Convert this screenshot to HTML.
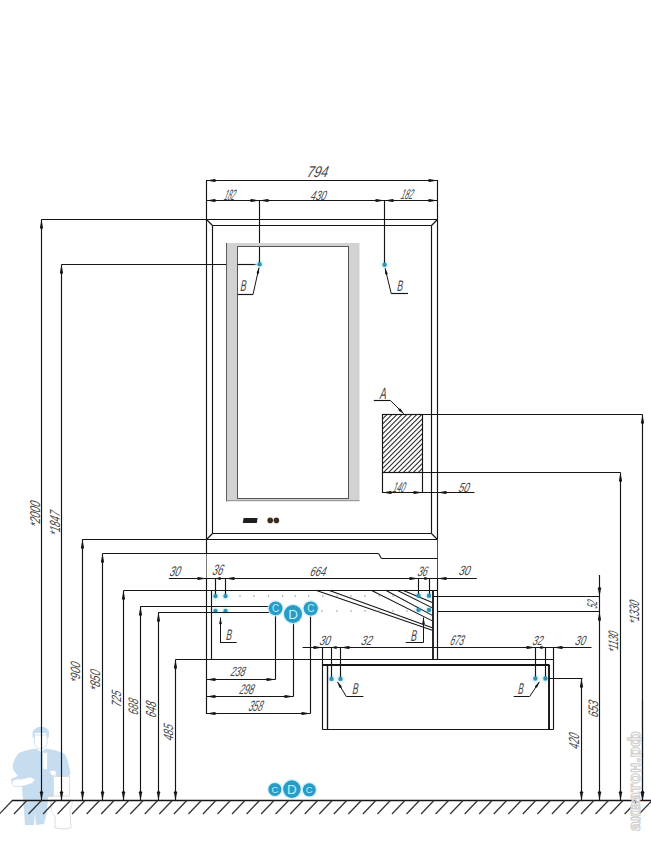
<!DOCTYPE html>
<html><head><meta charset="utf-8"><style>
html,body{margin:0;padding:0;background:#fff;}
svg{display:block;}
text{font-family:"Liberation Sans",sans-serif;}
</style></head><body>
<svg width="651" height="841" viewBox="0 0 651 841">
<defs><filter id="glow" x="-50%" y="-50%" width="200%" height="200%"><feGaussianBlur stdDeviation="1.3"/></filter></defs>
<rect width="651" height="841" fill="#fff"/>
<g fill="#c6ddf0">
<path d="M32.5 737 Q31.5 729 38 727 Q45 725.5 48.5 730 Q50 734 48.5 738 L47 738 L46 733 L35 733 L34 738 Z"/>
<path d="M19 753 Q28 749 36 748.5 L41 752 L46 748.5 Q58 750 65 754 Q69 762 70.5 774 L68 777 L57 777 L53 772 L53 797 L22.5 797 L22 786 Q16 787 12 784 L11 779 L18 776 L14 771 Q12 768 13 764 Q15 757 19 753 Z"/>
<path d="M23 797 L48 797 L47 812 L44 824 L36 825 L35 812 L34 825 L25 825 L24 812 Z"/>
</g>
<g fill="#ffffff" stroke="#c6ddf0" stroke-width="0.8">
<path d="M34.5 735 L47 735 L47 744 Q44 749 40.5 749 Q36 749 34.5 744 Z"/>
<path d="M42.5 751.5 L45 753 L47.5 751.5 L47.5 769.5 L43 769.5 Z"/>
<path d="M12 781 Q16 778 22 779 L30 777 L35 779 L33 783 L24 786 L15 786.5 Q11 785 12 781 Z"/>
<path d="M49 771 L55 770 L57 774 L52 776 Z"/>
</g>
<g fill="#ffffff" stroke="#d6d6d6" stroke-width="0.8"><path d="M53.5 776.5 L69.5 776.5 L69.5 796 L53.5 796 Z"/><path d="M51 800 L72 800 Q73 806 70 810 L71 828 Q62 830 55 828 L55 816 Q50 812 51 806 Z"/></g>
<line x1="61.50" y1="264.50" x2="259.50" y2="264.50" stroke="#151515" stroke-width="1.15"/>
<rect x="226" y="243" width="133.50" height="258.50" fill="#d2d2d2"/>
<rect x="237.5" y="246.5" width="111.00" height="252.00" fill="#fff" stroke="#555555" stroke-width="1.0"/>
<line x1="226.50" y1="243.00" x2="226.50" y2="501.50" stroke="#5c5c5c" stroke-width="1.0"/>
<line x1="226.50" y1="500.50" x2="359.50" y2="500.50" stroke="#9a9a9a" stroke-width="1.0"/>
<line x1="237.50" y1="264.50" x2="259.50" y2="264.50" stroke="#151515" stroke-width="1.15"/>
<circle cx="215.50" cy="596.10" r="4.20" fill="#d9f4fa" filter="url(#glow)"/>
<circle cx="225.50" cy="596.10" r="4.20" fill="#d9f4fa" filter="url(#glow)"/>
<circle cx="215.50" cy="610.90" r="4.20" fill="#d9f4fa" filter="url(#glow)"/>
<circle cx="225.50" cy="610.90" r="4.20" fill="#d9f4fa" filter="url(#glow)"/>
<circle cx="418.50" cy="595.80" r="4.20" fill="#d9f4fa" filter="url(#glow)"/>
<circle cx="429.00" cy="595.80" r="4.20" fill="#d9f4fa" filter="url(#glow)"/>
<circle cx="418.50" cy="609.90" r="4.20" fill="#d9f4fa" filter="url(#glow)"/>
<circle cx="429.00" cy="609.90" r="4.20" fill="#d9f4fa" filter="url(#glow)"/>
<circle cx="331.50" cy="678.90" r="4.20" fill="#d9f4fa" filter="url(#glow)"/>
<circle cx="340.50" cy="678.90" r="4.20" fill="#d9f4fa" filter="url(#glow)"/>
<circle cx="535.40" cy="678.50" r="4.20" fill="#d9f4fa" filter="url(#glow)"/>
<circle cx="545.40" cy="678.50" r="4.20" fill="#d9f4fa" filter="url(#glow)"/>
<circle cx="259.60" cy="264.20" r="4.20" fill="#d9f4fa" filter="url(#glow)"/>
<circle cx="384.60" cy="264.80" r="4.20" fill="#d9f4fa" filter="url(#glow)"/>
<line x1="206.50" y1="219.50" x2="437.50" y2="219.50" stroke="#151515" stroke-width="1.15"/>
<line x1="212.50" y1="225.50" x2="431.50" y2="225.50" stroke="#151515" stroke-width="1.15"/>
<line x1="212.50" y1="533.50" x2="431.50" y2="533.50" stroke="#151515" stroke-width="1.15"/>
<line x1="212.50" y1="225.50" x2="212.50" y2="533.50" stroke="#151515" stroke-width="1.15"/>
<line x1="431.50" y1="225.50" x2="431.50" y2="533.50" stroke="#151515" stroke-width="1.15"/>
<line x1="82.50" y1="539.50" x2="437.50" y2="539.50" stroke="#151515" stroke-width="1.15"/>
<line x1="206.50" y1="219.50" x2="212.50" y2="225.50" stroke="#151515" stroke-width="1.15"/>
<line x1="437.50" y1="219.50" x2="431.50" y2="225.50" stroke="#151515" stroke-width="1.15"/>
<line x1="206.50" y1="539.50" x2="212.50" y2="533.50" stroke="#151515" stroke-width="1.15"/>
<line x1="437.50" y1="539.50" x2="431.50" y2="533.50" stroke="#151515" stroke-width="1.15"/>
<line x1="206.50" y1="180.00" x2="206.50" y2="553.50" stroke="#151515" stroke-width="1.15"/>
<line x1="206.50" y1="578.50" x2="206.50" y2="714.00" stroke="#151515" stroke-width="1.15"/>
<line x1="206.50" y1="553.50" x2="206.50" y2="578.50" stroke="#7c7c7c" stroke-width="1.0"/>
<line x1="437.50" y1="180.00" x2="437.50" y2="539.50" stroke="#151515" stroke-width="1.15"/>
<line x1="437.50" y1="539.50" x2="437.50" y2="578.50" stroke="#505050" stroke-width="1.0"/>
<line x1="437.50" y1="578.50" x2="437.50" y2="659.50" stroke="#151515" stroke-width="1.15"/>
<polygon points="243.6,518 257.6,518 256.8,522.9 242.8,522.9" fill="#1e1e1e"/>
<circle cx="270.2" cy="520.4" r="2.8" fill="#3a2e20"/><circle cx="276.4" cy="520.4" r="2.8" fill="#3a2e20"/>
<line x1="206.50" y1="180.50" x2="437.50" y2="180.50" stroke="#151515" stroke-width="1.15"/>
<polygon points="206.50,180.50 214.69,182.05 217.00,180.50 214.69,178.95" fill="#151515"/>
<polygon points="437.50,180.50 429.31,178.95 427.00,180.50 429.31,182.05" fill="#151515"/>
<line x1="206.50" y1="200.50" x2="437.50" y2="200.50" stroke="#151515" stroke-width="1.15"/>
<polygon points="206.50,200.50 214.69,202.05 217.00,200.50 214.69,198.95" fill="#151515"/>
<polygon points="259.50,200.50 251.31,198.95 249.00,200.50 251.31,202.05" fill="#151515"/>
<polygon points="259.50,200.50 267.69,202.05 270.00,200.50 267.69,198.95" fill="#151515"/>
<polygon points="384.50,200.50 376.31,198.95 374.00,200.50 376.31,202.05" fill="#151515"/>
<polygon points="384.50,200.50 392.69,202.05 395.00,200.50 392.69,198.95" fill="#151515"/>
<polygon points="437.50,200.50 429.31,198.95 427.00,200.50 429.31,202.05" fill="#151515"/>
<line x1="259.50" y1="200.50" x2="259.50" y2="243.00" stroke="#151515" stroke-width="1.15"/>
<line x1="259.50" y1="247.00" x2="259.50" y2="264.00" stroke="#151515" stroke-width="1.15"/>
<line x1="384.50" y1="200.50" x2="384.50" y2="264.50" stroke="#151515" stroke-width="1.15"/>
<line x1="258.90" y1="268.00" x2="253.00" y2="294.50" stroke="#151515" stroke-width="1.0"/>
<line x1="237.70" y1="294.50" x2="253.00" y2="294.50" stroke="#151515" stroke-width="1.15"/>
<polygon points="259.20,266.80 256.69,272.64 257.48,274.61 259.03,273.15" fill="#151515"/>
<line x1="385.20" y1="268.50" x2="391.20" y2="293.50" stroke="#151515" stroke-width="1.0"/>
<line x1="391.20" y1="293.50" x2="408.00" y2="293.50" stroke="#151515" stroke-width="1.15"/>
<polygon points="384.90,267.50 385.13,273.85 386.69,275.30 387.47,273.31" fill="#151515"/>
<clipPath id="hc"><rect x="382.5" y="414.5" width="40.0" height="58.0"/></clipPath>
<g clip-path="url(#hc)" stroke="#2a2a2a" stroke-width="1.05"><line x1="306.30" y1="475.50" x2="381.30" y2="400.50"/><line x1="311.25" y1="475.50" x2="386.25" y2="400.50"/><line x1="316.20" y1="475.50" x2="391.20" y2="400.50"/><line x1="321.15" y1="475.50" x2="396.15" y2="400.50"/><line x1="326.10" y1="475.50" x2="401.10" y2="400.50"/><line x1="331.05" y1="475.50" x2="406.05" y2="400.50"/><line x1="336.00" y1="475.50" x2="411.00" y2="400.50"/><line x1="340.95" y1="475.50" x2="415.95" y2="400.50"/><line x1="345.90" y1="475.50" x2="420.90" y2="400.50"/><line x1="350.85" y1="475.50" x2="425.85" y2="400.50"/><line x1="355.80" y1="475.50" x2="430.80" y2="400.50"/><line x1="360.75" y1="475.50" x2="435.75" y2="400.50"/><line x1="365.70" y1="475.50" x2="440.70" y2="400.50"/><line x1="370.65" y1="475.50" x2="445.65" y2="400.50"/><line x1="375.60" y1="475.50" x2="450.60" y2="400.50"/><line x1="380.55" y1="475.50" x2="455.55" y2="400.50"/><line x1="385.50" y1="475.50" x2="460.50" y2="400.50"/><line x1="390.45" y1="475.50" x2="465.45" y2="400.50"/><line x1="395.40" y1="475.50" x2="470.40" y2="400.50"/><line x1="400.35" y1="475.50" x2="475.35" y2="400.50"/><line x1="405.30" y1="475.50" x2="480.30" y2="400.50"/><line x1="410.25" y1="475.50" x2="485.25" y2="400.50"/><line x1="415.20" y1="475.50" x2="490.20" y2="400.50"/><line x1="420.15" y1="475.50" x2="495.15" y2="400.50"/><line x1="425.10" y1="475.50" x2="500.10" y2="400.50"/><line x1="430.05" y1="475.50" x2="505.05" y2="400.50"/></g>
<rect x="382.5" y="414.5" width="40.0" height="58.0" fill="none" stroke="#151515" stroke-width="1.15"/>
<line x1="422.50" y1="414.50" x2="642.50" y2="414.50" stroke="#151515" stroke-width="1.15"/>
<line x1="422.50" y1="472.50" x2="620.50" y2="472.50" stroke="#151515" stroke-width="1.15"/>
<line x1="373.80" y1="400.50" x2="390.40" y2="400.50" stroke="#151515" stroke-width="1.15"/>
<line x1="390.40" y1="400.50" x2="403.60" y2="413.60" stroke="#151515" stroke-width="1.0"/>
<polygon points="404.10,414.10 400.57,408.79 398.40,408.48 398.74,410.64" fill="#151515"/>
<line x1="382.50" y1="472.50" x2="382.50" y2="493.00" stroke="#151515" stroke-width="1.15"/>
<line x1="422.50" y1="472.50" x2="422.50" y2="493.00" stroke="#151515" stroke-width="1.15"/>
<line x1="382.50" y1="492.50" x2="474.50" y2="492.50" stroke="#151515" stroke-width="1.15"/>
<polygon points="382.50,492.50 390.69,494.05 393.00,492.50 390.69,490.95" fill="#151515"/>
<polygon points="422.50,492.50 414.31,490.95 412.00,492.50 414.31,494.05" fill="#151515"/>
<polygon points="437.50,492.50 445.69,494.05 448.00,492.50 445.69,490.95" fill="#151515"/>
<line x1="41.50" y1="219.50" x2="41.50" y2="800.50" stroke="#151515" stroke-width="1.15"/>
<line x1="41.50" y1="219.50" x2="206.50" y2="219.50" stroke="#151515" stroke-width="1.15"/>
<polygon points="41.50,219.50 39.95,227.69 41.50,230.00 43.05,227.69" fill="#151515"/>
<polygon points="41.50,800.50 43.05,792.31 41.50,790.00 39.95,792.31" fill="#151515"/>
<line x1="61.50" y1="264.50" x2="61.50" y2="800.50" stroke="#151515" stroke-width="1.15"/>
<polygon points="61.50,264.50 59.95,272.69 61.50,275.00 63.05,272.69" fill="#151515"/>
<polygon points="61.50,800.50 63.05,792.31 61.50,790.00 59.95,792.31" fill="#151515"/>
<line x1="82.50" y1="539.50" x2="82.50" y2="800.50" stroke="#151515" stroke-width="1.15"/>
<line x1="82.50" y1="539.50" x2="206.50" y2="539.50" stroke="#151515" stroke-width="1.15"/>
<polygon points="82.50,539.50 80.95,547.69 82.50,550.00 84.05,547.69" fill="#151515"/>
<polygon points="82.50,800.50 84.05,792.31 82.50,790.00 80.95,792.31" fill="#151515"/>
<line x1="102.50" y1="553.50" x2="102.50" y2="800.50" stroke="#151515" stroke-width="1.15"/>
<line x1="102.50" y1="553.50" x2="378.60" y2="553.50" stroke="#151515" stroke-width="1.15"/>
<polygon points="102.50,553.50 100.95,561.69 102.50,564.00 104.05,561.69" fill="#151515"/>
<polygon points="102.50,800.50 104.05,792.31 102.50,790.00 100.95,792.31" fill="#151515"/>
<line x1="123.50" y1="590.50" x2="123.50" y2="800.50" stroke="#151515" stroke-width="1.15"/>
<line x1="123.50" y1="590.50" x2="437.50" y2="590.50" stroke="#151515" stroke-width="1.15"/>
<polygon points="123.50,590.50 121.95,598.69 123.50,601.00 125.05,598.69" fill="#151515"/>
<polygon points="123.50,800.50 125.05,792.31 123.50,790.00 121.95,792.31" fill="#151515"/>
<line x1="140.50" y1="606.50" x2="140.50" y2="800.50" stroke="#151515" stroke-width="1.15"/>
<line x1="140.50" y1="606.50" x2="270.00" y2="606.50" stroke="#151515" stroke-width="1.15"/>
<polygon points="140.50,606.50 138.95,614.69 140.50,617.00 142.05,614.69" fill="#151515"/>
<polygon points="140.50,800.50 142.05,792.31 140.50,790.00 138.95,792.31" fill="#151515"/>
<line x1="158.50" y1="612.50" x2="158.50" y2="800.50" stroke="#151515" stroke-width="1.15"/>
<line x1="158.50" y1="612.50" x2="270.00" y2="612.50" stroke="#151515" stroke-width="1.15"/>
<polygon points="158.50,612.50 156.95,620.69 158.50,623.00 160.05,620.69" fill="#151515"/>
<polygon points="158.50,800.50 160.05,792.31 158.50,790.00 156.95,792.31" fill="#151515"/>
<line x1="175.50" y1="659.50" x2="175.50" y2="800.50" stroke="#151515" stroke-width="1.15"/>
<line x1="175.50" y1="659.50" x2="553.50" y2="659.50" stroke="#151515" stroke-width="1.15"/>
<polygon points="175.50,659.50 173.95,667.69 175.50,670.00 177.05,667.69" fill="#151515"/>
<polygon points="175.50,800.50 177.05,792.31 175.50,790.00 173.95,792.31" fill="#151515"/>
<line x1="41.50" y1="219.50" x2="206.50" y2="219.50" stroke="#151515" stroke-width="1.15"/>
<line x1="378.60" y1="553.50" x2="381.40" y2="558.50" stroke="#151515" stroke-width="1.15"/>
<line x1="381.40" y1="558.50" x2="437.50" y2="558.50" stroke="#151515" stroke-width="1.15"/>
<line x1="168.80" y1="578.50" x2="476.80" y2="578.50" stroke="#151515" stroke-width="1.15"/>
<polygon points="206.50,578.50 198.31,576.95 196.00,578.50 198.31,580.05" fill="#151515"/>
<polygon points="225.50,578.50 233.69,580.05 236.00,578.50 233.69,576.95" fill="#151515"/>
<polygon points="418.50,578.50 410.31,576.95 408.00,578.50 410.31,580.05" fill="#151515"/>
<polygon points="437.50,578.50 445.69,580.05 448.00,578.50 445.69,576.95" fill="#151515"/>
<polygon points="215.50,578.50 220.18,580.05 221.50,578.50 220.18,576.95" fill="#151515"/>
<polygon points="429.50,578.50 424.82,576.95 423.50,578.50 424.82,580.05" fill="#151515"/>
<line x1="215.50" y1="578.50" x2="215.50" y2="596.00" stroke="#151515" stroke-width="1.15"/>
<line x1="225.50" y1="578.50" x2="225.50" y2="596.00" stroke="#151515" stroke-width="1.15"/>
<line x1="418.50" y1="578.50" x2="418.50" y2="596.00" stroke="#151515" stroke-width="1.15"/>
<line x1="429.50" y1="578.50" x2="429.50" y2="596.00" stroke="#151515" stroke-width="1.15"/>
<line x1="211.50" y1="590.50" x2="211.50" y2="659.50" stroke="#151515" stroke-width="1.15"/>
<line x1="316.50" y1="590.50" x2="432.30" y2="630.20" stroke="#151515" stroke-width="1.05"/>
<line x1="329.40" y1="590.50" x2="432.30" y2="627.80" stroke="#151515" stroke-width="1.05"/>
<line x1="371.70" y1="590.50" x2="432.30" y2="620.90" stroke="#151515" stroke-width="1.05"/>
<line x1="386.10" y1="590.50" x2="432.30" y2="615.40" stroke="#151515" stroke-width="1.05"/>
<line x1="397.60" y1="590.50" x2="432.30" y2="607.90" stroke="#151515" stroke-width="1.05"/>
<line x1="403.40" y1="590.50" x2="432.30" y2="602.50" stroke="#151515" stroke-width="1.05"/>
<line x1="433.00" y1="590.50" x2="433.00" y2="659.50" stroke="#151515" stroke-width="1.8"/>
<circle cx="240" cy="596" r="0.75" fill="#8c8c8c"/>
<circle cx="254" cy="596" r="0.75" fill="#8c8c8c"/>
<circle cx="268.5" cy="596" r="0.75" fill="#8c8c8c"/>
<circle cx="282.5" cy="596" r="0.75" fill="#8c8c8c"/>
<circle cx="295.2" cy="596" r="0.75" fill="#8c8c8c"/>
<circle cx="308.7" cy="596" r="0.75" fill="#8c8c8c"/>
<circle cx="322.8" cy="596" r="0.75" fill="#8c8c8c"/>
<circle cx="337" cy="596" r="0.75" fill="#8c8c8c"/>
<circle cx="351" cy="596" r="0.75" fill="#8c8c8c"/>
<circle cx="365" cy="596" r="0.75" fill="#8c8c8c"/>
<circle cx="379" cy="596" r="0.75" fill="#8c8c8c"/>
<circle cx="393" cy="596" r="0.75" fill="#8c8c8c"/>
<circle cx="322" cy="611" r="0.75" fill="#8c8c8c"/>
<circle cx="337" cy="611" r="0.75" fill="#8c8c8c"/>
<circle cx="351" cy="611" r="0.75" fill="#8c8c8c"/>
<circle cx="365" cy="611" r="0.75" fill="#8c8c8c"/>
<circle cx="379" cy="611" r="0.75" fill="#8c8c8c"/>
<circle cx="393" cy="611" r="0.75" fill="#8c8c8c"/>
<circle cx="407" cy="611" r="0.75" fill="#8c8c8c"/>
<line x1="220.50" y1="617.50" x2="220.50" y2="642.50" stroke="#151515" stroke-width="1.0"/>
<line x1="220.00" y1="642.50" x2="236.70" y2="642.50" stroke="#151515" stroke-width="1.0"/>
<polygon points="220.50,617.30 219.25,623.54 220.50,625.30 221.75,623.54" fill="#151515"/>
<line x1="423.50" y1="617.50" x2="423.50" y2="642.50" stroke="#151515" stroke-width="1.0"/>
<line x1="405.70" y1="642.50" x2="423.50" y2="642.50" stroke="#151515" stroke-width="1.0"/>
<polygon points="423.50,617.30 422.25,623.54 423.50,625.30 424.75,623.54" fill="#151515"/>
<line x1="433.00" y1="596.50" x2="599.50" y2="596.50" stroke="#151515" stroke-width="1.15"/>
<line x1="437.50" y1="611.50" x2="599.50" y2="611.50" stroke="#151515" stroke-width="1.15"/>
<line x1="599.50" y1="575.00" x2="599.50" y2="800.50" stroke="#151515" stroke-width="1.15"/>
<polygon points="599.50,596.50 601.05,588.31 599.50,586.00 597.95,588.31" fill="#151515"/>
<polygon points="599.50,611.50 597.95,619.69 599.50,622.00 601.05,619.69" fill="#151515"/>
<polygon points="599.50,800.50 601.05,792.31 599.50,790.00 597.95,792.31" fill="#151515"/>
<line x1="620.50" y1="472.50" x2="620.50" y2="800.50" stroke="#151515" stroke-width="1.15"/>
<polygon points="620.50,472.50 618.95,480.69 620.50,483.00 622.05,480.69" fill="#151515"/>
<polygon points="620.50,800.50 622.05,792.31 620.50,790.00 618.95,792.31" fill="#151515"/>
<line x1="642.50" y1="414.50" x2="642.50" y2="800.50" stroke="#151515" stroke-width="1.15"/>
<polygon points="642.50,414.50 640.95,422.69 642.50,425.00 644.05,422.69" fill="#151515"/>
<polygon points="642.50,800.50 644.05,792.31 642.50,790.00 640.95,792.31" fill="#151515"/>
<line x1="275.50" y1="608.30" x2="275.50" y2="679.50" stroke="#151515" stroke-width="1.15"/>
<line x1="293.50" y1="614.00" x2="293.50" y2="696.50" stroke="#151515" stroke-width="1.15"/>
<line x1="310.50" y1="608.50" x2="310.50" y2="713.50" stroke="#151515" stroke-width="1.15"/>
<line x1="206.50" y1="679.50" x2="275.50" y2="679.50" stroke="#151515" stroke-width="1.15"/>
<polygon points="206.50,679.50 214.69,681.05 217.00,679.50 214.69,677.95" fill="#151515"/>
<polygon points="275.50,679.50 267.31,677.95 265.00,679.50 267.31,681.05" fill="#151515"/>
<line x1="206.50" y1="696.50" x2="293.50" y2="696.50" stroke="#151515" stroke-width="1.15"/>
<polygon points="206.50,696.50 214.69,698.05 217.00,696.50 214.69,694.95" fill="#151515"/>
<polygon points="293.50,696.50 285.31,694.95 283.00,696.50 285.31,698.05" fill="#151515"/>
<line x1="206.50" y1="713.50" x2="310.50" y2="713.50" stroke="#151515" stroke-width="1.15"/>
<polygon points="206.50,713.50 214.69,715.05 217.00,713.50 214.69,711.95" fill="#151515"/>
<polygon points="310.50,713.50 302.31,711.95 300.00,713.50 302.31,715.05" fill="#151515"/>
<line x1="302.50" y1="647.50" x2="591.50" y2="647.50" stroke="#151515" stroke-width="1.15"/>
<polygon points="322.50,647.50 314.31,645.95 312.00,647.50 314.31,649.05" fill="#151515"/>
<polygon points="340.50,647.50 348.69,649.05 351.00,647.50 348.69,645.95" fill="#151515"/>
<polygon points="535.50,647.50 527.31,645.95 525.00,647.50 527.31,649.05" fill="#151515"/>
<polygon points="553.50,647.50 561.69,649.05 564.00,647.50 561.69,645.95" fill="#151515"/>
<polygon points="331.50,647.50 336.18,649.05 337.50,647.50 336.18,645.95" fill="#151515"/>
<polygon points="545.50,647.50 540.82,645.95 539.50,647.50 540.82,649.05" fill="#151515"/>
<line x1="331.50" y1="647.50" x2="331.50" y2="678.80" stroke="#151515" stroke-width="1.15"/>
<line x1="340.50" y1="647.50" x2="340.50" y2="678.80" stroke="#151515" stroke-width="1.15"/>
<line x1="535.50" y1="647.50" x2="535.50" y2="678.50" stroke="#151515" stroke-width="1.15"/>
<line x1="545.50" y1="647.50" x2="545.50" y2="678.50" stroke="#151515" stroke-width="1.15"/>
<line x1="322.50" y1="647.50" x2="322.50" y2="729.50" stroke="#151515" stroke-width="1.15"/>
<line x1="553.50" y1="647.50" x2="553.50" y2="729.50" stroke="#151515" stroke-width="1.15"/>
<line x1="322.50" y1="665.00" x2="549.50" y2="665.00" stroke="#151515" stroke-width="2.0"/>
<line x1="327.50" y1="665.00" x2="327.50" y2="729.50" stroke="#151515" stroke-width="1.35"/>
<line x1="549.00" y1="665.00" x2="549.00" y2="729.50" stroke="#151515" stroke-width="1.9"/>
<line x1="322.50" y1="729.50" x2="553.50" y2="729.50" stroke="#151515" stroke-width="1.15"/>
<line x1="337.60" y1="682.00" x2="346.30" y2="696.50" stroke="#151515" stroke-width="1.0"/>
<line x1="346.30" y1="696.50" x2="363.40" y2="696.50" stroke="#151515" stroke-width="1.0"/>
<polygon points="337.20,681.40 339.39,687.38 341.37,688.22 341.52,686.07" fill="#151515"/>
<line x1="539.30" y1="682.00" x2="529.70" y2="696.50" stroke="#151515" stroke-width="1.0"/>
<line x1="513.70" y1="696.50" x2="529.70" y2="696.50" stroke="#151515" stroke-width="1.0"/>
<polygon points="539.60,681.40 535.14,685.94 535.22,688.09 537.23,687.31" fill="#151515"/>
<line x1="549.50" y1="678.50" x2="582.50" y2="678.50" stroke="#151515" stroke-width="1.15"/>
<line x1="581.50" y1="678.50" x2="581.50" y2="800.50" stroke="#151515" stroke-width="1.15"/>
<polygon points="581.50,678.50 579.95,686.69 581.50,689.00 583.05,686.69" fill="#151515"/>
<polygon points="581.50,800.50 583.05,792.31 581.50,790.00 579.95,792.31" fill="#151515"/>
<text transform="translate(316.33,177.40) skewX(-20)" font-size="15.48" text-anchor="middle" textLength="21.06" lengthAdjust="spacingAndGlyphs" fill="#464646">794</text>
<text transform="translate(228.50,199.60) skewX(-20)" font-size="14.94" text-anchor="middle" textLength="10.75" lengthAdjust="spacingAndGlyphs" fill="#464646">182</text>
<text transform="translate(317.40,199.60) skewX(-20)" font-size="13.45" text-anchor="middle" textLength="15.10" lengthAdjust="spacingAndGlyphs" fill="#464646">430</text>
<text transform="translate(406.02,199.00) skewX(-20)" font-size="14.06" text-anchor="middle" textLength="12.10" lengthAdjust="spacingAndGlyphs" fill="#464646">182</text>
<text transform="translate(242.59,291.00) skewX(-11)" font-size="15.82" text-anchor="middle" textLength="5.91" lengthAdjust="spacingAndGlyphs" fill="#464646">B</text>
<text transform="translate(399.47,290.80) skewX(-11)" font-size="15.23" text-anchor="middle" textLength="5.87" lengthAdjust="spacingAndGlyphs" fill="#464646">B</text>
<text transform="translate(382.41,398.60) skewX(-11)" font-size="16.30" text-anchor="middle" textLength="6.56" lengthAdjust="spacingAndGlyphs" fill="#464646">A</text>
<text transform="translate(398.02,491.60) skewX(-20)" font-size="14.06" text-anchor="middle" textLength="12.10" lengthAdjust="spacingAndGlyphs" fill="#464646">140</text>
<text transform="translate(463.03,491.60) skewX(-20)" font-size="13.22" text-anchor="middle" textLength="10.51" lengthAdjust="spacingAndGlyphs" fill="#464646">50</text>
<text transform="translate(174.12,575.80) skewX(-20)" font-size="14.06" text-anchor="middle" textLength="10.67" lengthAdjust="spacingAndGlyphs" fill="#464646">30</text>
<text transform="translate(216.66,575.40) skewX(-20)" font-size="15.16" text-anchor="middle" textLength="10.42" lengthAdjust="spacingAndGlyphs" fill="#464646">36</text>
<text transform="translate(317.10,575.80) skewX(-20)" font-size="13.45" text-anchor="middle" textLength="15.50" lengthAdjust="spacingAndGlyphs" fill="#464646">664</text>
<text transform="translate(421.56,575.80) skewX(-20)" font-size="13.79" text-anchor="middle" textLength="9.73" lengthAdjust="spacingAndGlyphs" fill="#464646">36</text>
<text transform="translate(463.50,575.40) skewX(-20)" font-size="13.45" text-anchor="middle" textLength="11.22" lengthAdjust="spacingAndGlyphs" fill="#464646">30</text>
<text transform="translate(228.37,639.80) skewX(-11)" font-size="15.23" text-anchor="middle" textLength="5.74" lengthAdjust="spacingAndGlyphs" fill="#464646">B</text>
<text transform="translate(413.29,640.60) skewX(-11)" font-size="15.82" text-anchor="middle" textLength="5.87" lengthAdjust="spacingAndGlyphs" fill="#464646">B</text>
<text transform="translate(324.10,645.00) skewX(-20)" font-size="13.45" text-anchor="middle" textLength="10.52" lengthAdjust="spacingAndGlyphs" fill="#464646">30</text>
<text transform="translate(365.70,645.00) skewX(-20)" font-size="13.45" text-anchor="middle" textLength="10.71" lengthAdjust="spacingAndGlyphs" fill="#464646">32</text>
<text transform="translate(456.02,644.80) skewX(-20)" font-size="14.06" text-anchor="middle" textLength="13.79" lengthAdjust="spacingAndGlyphs" fill="#464646">673</text>
<text transform="translate(536.83,644.80) skewX(-20)" font-size="13.22" text-anchor="middle" textLength="10.04" lengthAdjust="spacingAndGlyphs" fill="#464646">32</text>
<text transform="translate(579.43,644.80) skewX(-20)" font-size="13.22" text-anchor="middle" textLength="10.23" lengthAdjust="spacingAndGlyphs" fill="#464646">30</text>
<text transform="translate(236.90,676.40) skewX(-20)" font-size="13.45" text-anchor="middle" textLength="14.37" lengthAdjust="spacingAndGlyphs" fill="#464646">238</text>
<text transform="translate(245.72,693.80) skewX(-20)" font-size="14.06" text-anchor="middle" textLength="14.41" lengthAdjust="spacingAndGlyphs" fill="#464646">298</text>
<text transform="translate(254.60,710.60) skewX(-20)" font-size="14.94" text-anchor="middle" textLength="13.74" lengthAdjust="spacingAndGlyphs" fill="#464646">358</text>
<text transform="translate(354.69,693.60) skewX(-11)" font-size="15.82" text-anchor="middle" textLength="5.92" lengthAdjust="spacingAndGlyphs" fill="#464646">B</text>
<text transform="translate(520.23,693.60) skewX(-11)" font-size="15.51" text-anchor="middle" textLength="5.40" lengthAdjust="spacingAndGlyphs" fill="#464646">B</text>
<text transform="translate(39.80,515.32) rotate(-90) skewX(-20)" font-size="14.29" text-anchor="middle" textLength="25.74" lengthAdjust="spacingAndGlyphs" fill="#464646">*2000</text>
<text transform="translate(60.20,524.56) rotate(-90) skewX(-20)" font-size="14.63" text-anchor="middle" textLength="24.36" lengthAdjust="spacingAndGlyphs" fill="#464646">*1847</text>
<text transform="translate(79.60,673.50) rotate(-90) skewX(-20)" font-size="13.45" text-anchor="middle" textLength="20.68" lengthAdjust="spacingAndGlyphs" fill="#464646">*900</text>
<text transform="translate(99.80,681.57) rotate(-90) skewX(-20)" font-size="14.10" text-anchor="middle" textLength="20.95" lengthAdjust="spacingAndGlyphs" fill="#464646">*850</text>
<text transform="translate(121.00,699.90) rotate(-90) skewX(-20)" font-size="13.45" text-anchor="middle" textLength="16.06" lengthAdjust="spacingAndGlyphs" fill="#464646">725</text>
<text transform="translate(138.00,707.74) rotate(-90) skewX(-20)" font-size="13.79" text-anchor="middle" textLength="15.92" lengthAdjust="spacingAndGlyphs" fill="#464646">688</text>
<text transform="translate(156.20,710.56) rotate(-90) skewX(-20)" font-size="14.63" text-anchor="middle" textLength="15.87" lengthAdjust="spacingAndGlyphs" fill="#464646">648</text>
<text transform="translate(173.20,733.50) rotate(-90) skewX(-20)" font-size="13.45" text-anchor="middle" textLength="16.00" lengthAdjust="spacingAndGlyphs" fill="#464646">485</text>
<text transform="translate(597.40,605.58) rotate(-90) skewX(-20)" font-size="14.06" text-anchor="middle" textLength="7.59" lengthAdjust="spacingAndGlyphs" fill="#464646">52</text>
<text transform="translate(617.60,643.14) rotate(-90) skewX(-20)" font-size="13.79" text-anchor="middle" textLength="20.94" lengthAdjust="spacingAndGlyphs" fill="#464646">*1130</text>
<text transform="translate(639.40,613.44) rotate(-90) skewX(-20)" font-size="13.79" text-anchor="middle" textLength="23.45" lengthAdjust="spacingAndGlyphs" fill="#464646">*1330</text>
<text transform="translate(598.40,710.05) rotate(-90) skewX(-20)" font-size="13.81" text-anchor="middle" textLength="16.53" lengthAdjust="spacingAndGlyphs" fill="#464646">653</text>
<text transform="translate(579.00,742.36) rotate(-90) skewX(-20)" font-size="14.63" text-anchor="middle" textLength="15.10" lengthAdjust="spacingAndGlyphs" fill="#464646">420</text>
<circle cx="215.50" cy="596.10" r="2.2" fill="#3290b4"/>
<circle cx="225.50" cy="596.10" r="2.2" fill="#3290b4"/>
<circle cx="215.50" cy="610.90" r="2.2" fill="#3290b4"/>
<circle cx="225.50" cy="610.90" r="2.2" fill="#3290b4"/>
<circle cx="418.50" cy="595.80" r="2.2" fill="#3290b4"/>
<circle cx="429.00" cy="595.80" r="2.2" fill="#3290b4"/>
<circle cx="418.50" cy="609.90" r="2.2" fill="#3290b4"/>
<circle cx="429.00" cy="609.90" r="2.2" fill="#3290b4"/>
<circle cx="331.50" cy="678.90" r="2.2" fill="#3290b4"/>
<circle cx="340.50" cy="678.90" r="2.2" fill="#3290b4"/>
<circle cx="535.40" cy="678.50" r="2.2" fill="#3290b4"/>
<circle cx="545.40" cy="678.50" r="2.2" fill="#3290b4"/>
<circle cx="259.60" cy="264.20" r="2.2" fill="#3290b4"/>
<circle cx="384.60" cy="264.80" r="2.2" fill="#3290b4"/>
<line x1="140.50" y1="606.50" x2="270.00" y2="606.50" stroke="#151515" stroke-width="1.15"/>
<line x1="158.50" y1="612.50" x2="270.00" y2="612.50" stroke="#151515" stroke-width="1.15"/>
<circle cx="275.6" cy="608.35" r="8.200000000000001" fill="#cdf0f9" opacity="0.85"/>
<circle cx="275.6" cy="608.35" r="6.9" fill="#2a9ac6"/>
<text x="275.6" y="611.95" font-size="10" text-anchor="middle" fill="#b5f3ff">C</text>
<circle cx="293" cy="614" r="10.3" fill="#cdf0f9" opacity="0.85"/>
<circle cx="293" cy="614" r="9.0" fill="#2a9ac6"/>
<text x="293" y="618.86" font-size="13.5" text-anchor="middle" fill="#b5f3ff">D</text>
<circle cx="310.75" cy="608.5" r="8.4" fill="#cdf0f9" opacity="0.85"/>
<circle cx="310.75" cy="608.5" r="7.1" fill="#2a9ac6"/>
<text x="310.75" y="612.10" font-size="10" text-anchor="middle" fill="#b5f3ff">C</text>
<circle cx="274.9" cy="789.4" r="7.8" fill="#cdf0f9" opacity="0.85"/>
<circle cx="274.9" cy="789.4" r="6.5" fill="#2a9ac6"/>
<text x="274.9" y="792.82" font-size="9.5" text-anchor="middle" fill="#b5f3ff">C</text>
<circle cx="291.9" cy="789.1" r="10.100000000000001" fill="#cdf0f9" opacity="0.85"/>
<circle cx="291.9" cy="789.1" r="8.8" fill="#2a9ac6"/>
<text x="291.9" y="793.96" font-size="13.5" text-anchor="middle" fill="#b5f3ff">D</text>
<circle cx="309.3" cy="789.8" r="7.85" fill="#cdf0f9" opacity="0.85"/>
<circle cx="309.3" cy="789.8" r="6.55" fill="#2a9ac6"/>
<text x="309.3" y="793.22" font-size="9.5" text-anchor="middle" fill="#b5f3ff">C</text>
<line x1="12.00" y1="800.50" x2="651.00" y2="800.50" stroke="#151515" stroke-width="1.5"/>
<line x1="12.30" y1="800.50" x2="-0.60" y2="814.00" stroke="#333333" stroke-width="1.25"/>
<line x1="26.84" y1="800.50" x2="13.94" y2="814.00" stroke="#333333" stroke-width="1.25"/>
<line x1="41.38" y1="800.50" x2="28.48" y2="814.00" stroke="#333333" stroke-width="1.25"/>
<line x1="55.92" y1="800.50" x2="43.02" y2="814.00" stroke="#333333" stroke-width="1.25"/>
<line x1="70.46" y1="800.50" x2="57.56" y2="814.00" stroke="#333333" stroke-width="1.25"/>
<line x1="85.00" y1="800.50" x2="72.10" y2="814.00" stroke="#333333" stroke-width="1.25"/>
<line x1="99.54" y1="800.50" x2="86.64" y2="814.00" stroke="#333333" stroke-width="1.25"/>
<line x1="114.08" y1="800.50" x2="101.18" y2="814.00" stroke="#333333" stroke-width="1.25"/>
<line x1="128.62" y1="800.50" x2="115.72" y2="814.00" stroke="#333333" stroke-width="1.25"/>
<line x1="143.16" y1="800.50" x2="130.26" y2="814.00" stroke="#333333" stroke-width="1.25"/>
<line x1="157.70" y1="800.50" x2="144.80" y2="814.00" stroke="#333333" stroke-width="1.25"/>
<line x1="172.24" y1="800.50" x2="159.34" y2="814.00" stroke="#333333" stroke-width="1.25"/>
<line x1="186.78" y1="800.50" x2="173.88" y2="814.00" stroke="#333333" stroke-width="1.25"/>
<line x1="201.32" y1="800.50" x2="188.42" y2="814.00" stroke="#333333" stroke-width="1.25"/>
<line x1="215.86" y1="800.50" x2="202.96" y2="814.00" stroke="#333333" stroke-width="1.25"/>
<line x1="230.40" y1="800.50" x2="217.50" y2="814.00" stroke="#333333" stroke-width="1.25"/>
<line x1="244.94" y1="800.50" x2="232.04" y2="814.00" stroke="#333333" stroke-width="1.25"/>
<line x1="259.48" y1="800.50" x2="246.58" y2="814.00" stroke="#333333" stroke-width="1.25"/>
<line x1="274.02" y1="800.50" x2="261.12" y2="814.00" stroke="#333333" stroke-width="1.25"/>
<line x1="288.56" y1="800.50" x2="275.66" y2="814.00" stroke="#333333" stroke-width="1.25"/>
<line x1="303.10" y1="800.50" x2="290.20" y2="814.00" stroke="#333333" stroke-width="1.25"/>
<line x1="317.64" y1="800.50" x2="304.74" y2="814.00" stroke="#333333" stroke-width="1.25"/>
<line x1="332.18" y1="800.50" x2="319.28" y2="814.00" stroke="#333333" stroke-width="1.25"/>
<line x1="346.72" y1="800.50" x2="333.82" y2="814.00" stroke="#333333" stroke-width="1.25"/>
<line x1="361.26" y1="800.50" x2="348.36" y2="814.00" stroke="#333333" stroke-width="1.25"/>
<line x1="375.80" y1="800.50" x2="362.90" y2="814.00" stroke="#333333" stroke-width="1.25"/>
<line x1="390.34" y1="800.50" x2="377.44" y2="814.00" stroke="#333333" stroke-width="1.25"/>
<line x1="404.88" y1="800.50" x2="391.98" y2="814.00" stroke="#333333" stroke-width="1.25"/>
<line x1="419.42" y1="800.50" x2="406.52" y2="814.00" stroke="#333333" stroke-width="1.25"/>
<line x1="433.96" y1="800.50" x2="421.06" y2="814.00" stroke="#333333" stroke-width="1.25"/>
<line x1="448.50" y1="800.50" x2="435.60" y2="814.00" stroke="#333333" stroke-width="1.25"/>
<line x1="463.04" y1="800.50" x2="450.14" y2="814.00" stroke="#333333" stroke-width="1.25"/>
<line x1="477.58" y1="800.50" x2="464.68" y2="814.00" stroke="#333333" stroke-width="1.25"/>
<line x1="492.12" y1="800.50" x2="479.22" y2="814.00" stroke="#333333" stroke-width="1.25"/>
<line x1="506.66" y1="800.50" x2="493.76" y2="814.00" stroke="#333333" stroke-width="1.25"/>
<line x1="521.20" y1="800.50" x2="508.30" y2="814.00" stroke="#333333" stroke-width="1.25"/>
<line x1="535.74" y1="800.50" x2="522.84" y2="814.00" stroke="#333333" stroke-width="1.25"/>
<line x1="550.28" y1="800.50" x2="537.38" y2="814.00" stroke="#333333" stroke-width="1.25"/>
<line x1="564.82" y1="800.50" x2="551.92" y2="814.00" stroke="#333333" stroke-width="1.25"/>
<line x1="579.36" y1="800.50" x2="566.46" y2="814.00" stroke="#333333" stroke-width="1.25"/>
<line x1="593.90" y1="800.50" x2="581.00" y2="814.00" stroke="#333333" stroke-width="1.25"/>
<line x1="608.44" y1="800.50" x2="595.54" y2="814.00" stroke="#333333" stroke-width="1.25"/>
<line x1="622.98" y1="800.50" x2="610.08" y2="814.00" stroke="#333333" stroke-width="1.25"/>
<line x1="637.52" y1="800.50" x2="624.62" y2="814.00" stroke="#333333" stroke-width="1.25"/>
<line x1="652.06" y1="800.50" x2="639.16" y2="814.00" stroke="#333333" stroke-width="1.25"/>
<text transform="translate(640.3,831) rotate(-90)" font-size="16.5" font-weight="bold" fill="#ffffff" stroke="#d0d0d0" stroke-width="1.1" textLength="99.5" lengthAdjust="spacingAndGlyphs">акватон.рф</text>
<line x1="642.50" y1="700.00" x2="642.50" y2="800.50" stroke="#151515" stroke-width="1.15"/>
<polygon points="642.50,800.50 644.05,792.31 642.50,790.00 640.95,792.31" fill="#151515"/>
</svg></body></html>
